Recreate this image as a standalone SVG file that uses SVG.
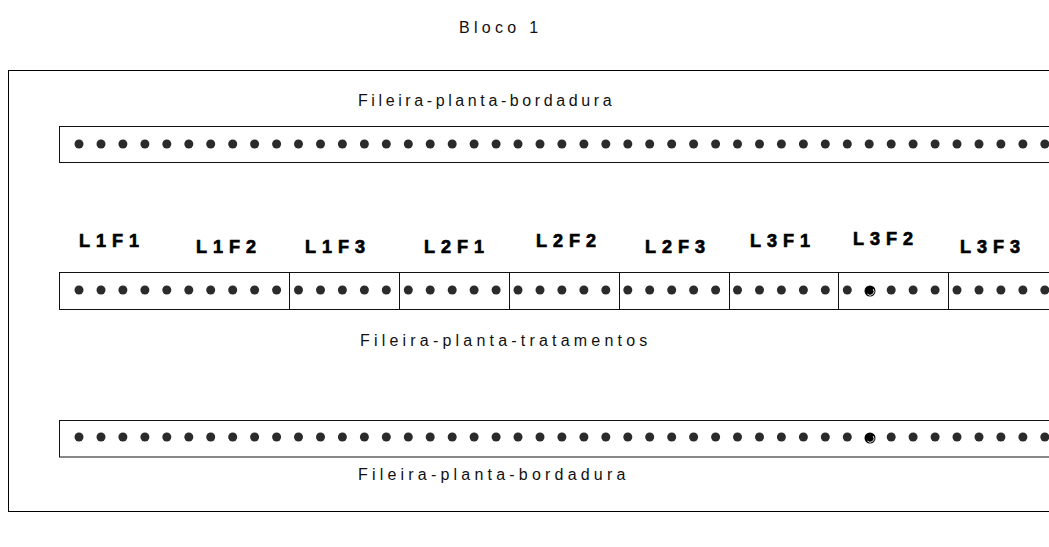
<svg xmlns="http://www.w3.org/2000/svg" width="1049" height="547" viewBox="0 0 1049 547">
<style>
  .frame{fill:none;stroke:#000;stroke-width:1}
  .row{fill:#fff;stroke:#111;stroke-width:1}
  .div{stroke:#111;stroke-width:1}
  .t{font-family:"Liberation Sans",Arial,sans-serif;font-size:16px;fill:#111}
  .lab{font-family:"Liberation Sans",Arial,sans-serif;font-size:18px;font-weight:bold;fill:#000;stroke:#000;stroke-width:0.7px;letter-spacing:6px}
  .dot{fill:#2b2b2b}
  .big{fill:#000}
</style>
<defs>
  <g id="dots">
    <circle class="dot" cx="79" r="4.5"/><circle class="dot" cx="101" r="4.5"/><circle class="dot" cx="122.9" r="4.5"/><circle class="dot" cx="144.9" r="4.5"/><circle class="dot" cx="166.8" r="4.5"/>
    <circle class="dot" cx="188.8" r="4.5"/><circle class="dot" cx="210.7" r="4.5"/><circle class="dot" cx="232.7" r="4.5"/><circle class="dot" cx="254.6" r="4.5"/><circle class="dot" cx="276.6" r="4.5"/>
    <circle class="dot" cx="298.5" r="4.5"/><circle class="dot" cx="320.5" r="4.5"/><circle class="dot" cx="342.4" r="4.5"/><circle class="dot" cx="364.4" r="4.5"/><circle class="dot" cx="386.3" r="4.5"/>
    <circle class="dot" cx="408.3" r="4.5"/><circle class="dot" cx="430.2" r="4.5"/><circle class="dot" cx="452.2" r="4.5"/><circle class="dot" cx="474.1" r="4.5"/><circle class="dot" cx="496.1" r="4.5"/>
    <circle class="dot" cx="518" r="4.5"/><circle class="dot" cx="540" r="4.5"/><circle class="dot" cx="561.9" r="4.5"/><circle class="dot" cx="583.9" r="4.5"/><circle class="dot" cx="605.8" r="4.5"/>
    <circle class="dot" cx="627.8" r="4.5"/><circle class="dot" cx="649.7" r="4.5"/><circle class="dot" cx="671.7" r="4.5"/><circle class="dot" cx="693.6" r="4.5"/><circle class="dot" cx="715.6" r="4.5"/>
    <circle class="dot" cx="737.5" r="4.5"/><circle class="dot" cx="759.5" r="4.5"/><circle class="dot" cx="781.4" r="4.5"/><circle class="dot" cx="803.4" r="4.5"/><circle class="dot" cx="825.3" r="4.5"/>
    <circle class="dot" cx="847.3" r="4.5"/>
    <circle class="dot" cx="891.2" r="4.5"/><circle class="dot" cx="913.1" r="4.5"/><circle class="dot" cx="935.1" r="4.5"/>
    <circle class="dot" cx="957" r="4.5"/><circle class="dot" cx="979" r="4.5"/><circle class="dot" cx="1000.9" r="4.5"/><circle class="dot" cx="1022.9" r="4.5"/><circle class="dot" cx="1044.8" r="4.5"/>
  </g>
  <g id="bigdot">
    <circle class="big" cx="0" cy="0" r="5.5"/>
    <path d="M -2.6 3 A 3.8 3.8 0 0 0 3.2 -1.9" fill="none" stroke="#fff" stroke-width="0.9"/>
  </g>
</defs>

<g id="title">
  <text class="t" x="459" y="33" style="letter-spacing:4.3px">Bloco 1</text>
</g>

<g id="bloco">
  <rect class="frame" x="8.5" y="70.5" width="1060" height="441"/>
</g>

<g id="fileira-bordadura-top">
  <text class="t" x="358" y="106" style="letter-spacing:3.6px">Fileira-planta-bordadura</text>
  <rect class="row" x="59.5" y="126.5" width="1010" height="36"/>
  <use href="#dots" y="144"/>
  <circle class="dot" cx="869.2" cy="144" r="4.5"/>
</g>

<g id="fileira-tratamentos">
  <rect class="row" x="59.5" y="272.5" width="1010" height="37"/>
  <use href="#dots" y="290"/>
  <use href="#bigdot" x="870" y="291"/>
  <text class="t" x="360" y="346" style="letter-spacing:4.2px">Fileira-planta-tratamentos</text>
</g>

<g id="parcelas">
  <line class="div" x1="289.5" y1="272.5" x2="289.5" y2="309.5"/>
  <line class="div" x1="399.5" y1="272.5" x2="399.5" y2="309.5"/>
  <line class="div" x1="509.5" y1="272.5" x2="509.5" y2="309.5"/>
  <line class="div" x1="619.5" y1="272.5" x2="619.5" y2="309.5"/>
  <line class="div" x1="729.5" y1="272.5" x2="729.5" y2="309.5"/>
  <line class="div" x1="838.5" y1="272.5" x2="838.5" y2="309.5"/>
  <line class="div" x1="948.5" y1="272.5" x2="948.5" y2="309.5"/>
</g>

<g id="labels">
  <text class="lab" x="79" y="247">L1F1</text>
  <text class="lab" x="196" y="253">L1F2</text>
  <text class="lab" x="305" y="253">L1F3</text>
  <text class="lab" x="424" y="253">L2F1</text>
  <text class="lab" x="536" y="247">L2F2</text>
  <text class="lab" x="645" y="253">L2F3</text>
  <text class="lab" x="750" y="247">L3F1</text>
  <text class="lab" x="853" y="245">L3F2</text>
  <text class="lab" x="960" y="253">L3F3</text>
</g>

<g id="fileira-bordadura-bottom">
  <rect class="row" x="59.5" y="420.5" width="1010" height="36.5"/>
  <use href="#dots" y="437"/>
  <use href="#bigdot" x="870" y="438"/>
  <text class="t" x="358" y="480" style="letter-spacing:4.2px">Fileira-planta-bordadura</text>
</g>
</svg>
